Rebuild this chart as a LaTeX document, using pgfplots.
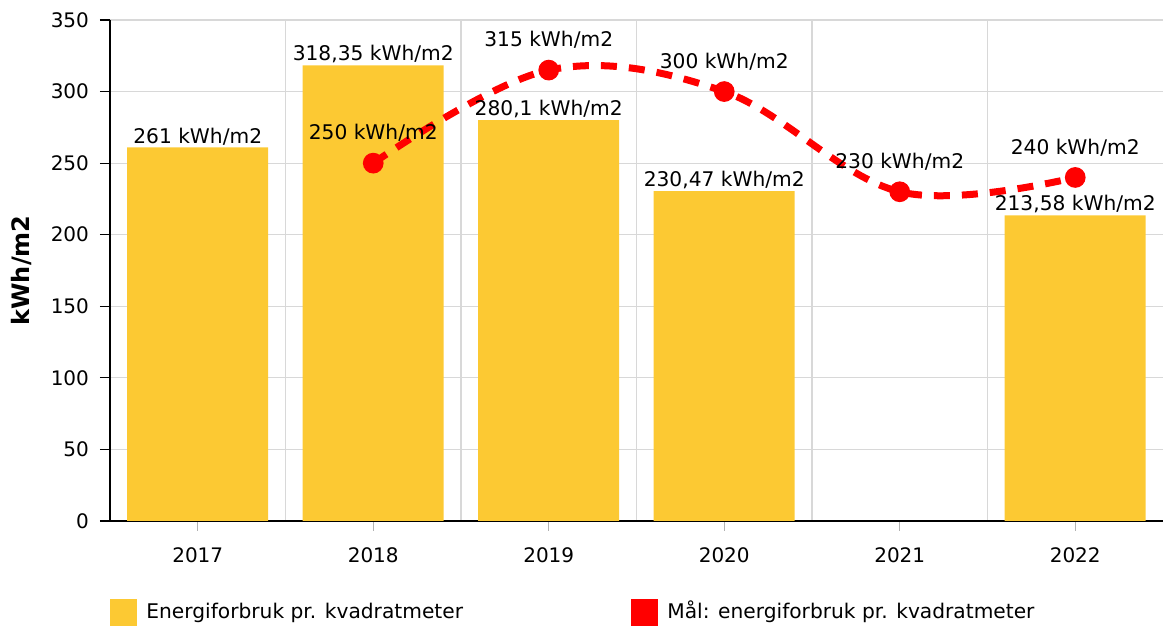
\documentclass[border=0pt]{standalone}
\usepackage{fontspec}
\setmainfont{DejaVu Sans}
\usepackage{pgfplots}
\pgfplotsset{compat=1.18}
\definecolor{barc}{RGB}{252,201,51}
\definecolor{goal}{RGB}{255,0,0}
\definecolor{gridc}{RGB}{216,216,216}

\begin{document}
\begin{tikzpicture}[font=\fontsize{10.1}{12}\selectfont]
\path[use as bounding box] (0,0) rectangle (581.5pt,313.5pt);
\begin{axis}[
  at={(55pt,53pt)}, anchor=south west,
  scale only axis, width=526.5pt, height=250.5pt,
  xmin=-0.5, xmax=5.5, ymin=0, ymax=350,
  xtick={0,1,2,3,4,5},
  xticklabels={2017,2018,2019,2020,2021,2022},
  minor xtick={0.5,1.5,2.5,3.5,4.5},
  ytick={0,50,100,150,200,250,300,350},
  ymajorgrids, xminorgrids,
  grid style={gridc, line width=0.6pt},
  minor tick length=0pt,
  axis lines*=left,
  axis line style={black, line width=0.9pt},
  tick align=outside, major tick length=5pt,
  xtick style={black!30, line width=0.6pt},
  ytick style={black, line width=0.6pt},
  tick label style={font=\fontsize{10}{12}\selectfont},
  /pgf/number format/assume math mode=true,
  xticklabel style={yshift=-5pt},
  yticklabel style={xshift=-2pt},
  ylabel={\textbf{kWh/m2}},
  every axis y label/.style={at={(axis description cs:-0.0836,0.5)}, rotate=90, anchor=center, font=\fontsize{12}{14}\selectfont},
  clip=false,
]
\addplot[ybar, bar width=70.5pt, bar shift=0pt, fill=barc, draw=none,
  point meta=explicit symbolic, nodes near coords,
  every node near coord/.style={anchor=south, inner sep=1pt, text=black}]
  coordinates {(0,261) [261 kWh/m2] (1,318.35) [318,35 kWh/m2] (2,280.1) [280,1 kWh/m2]
               (3,230.47) [230,47 kWh/m2] (5,213.58) [213,58 kWh/m2]};
\addplot[goal, line width=3.5pt, dash pattern=on 8pt off 6pt, smooth, tension=0.6,
  mark=*, mark size=3.4pt, mark options={solid, fill=goal, draw=none},
  point meta=explicit symbolic, nodes near coords,
  every node near coord/.style={anchor=south, inner sep=1pt, yshift=8pt, text=black}]
  coordinates {(1,250) [250 kWh/m2] (2,315) [315 kWh/m2] (3,300) [300 kWh/m2]
               (4,230) [230 kWh/m2] (5,240) [240 kWh/m2]};
\end{axis}
% legend
\fill[barc] (55pt,0.5pt) rectangle (68.5pt,14pt);
\node[anchor=base west, inner sep=0pt] at (73pt,4pt) {Energiforbruk pr. kvadratmeter};
\fill[goal] (315.5pt,0.5pt) rectangle (329pt,14pt);
\node[anchor=base west, inner sep=0pt] at (333.5pt,4pt) {Mål: energiforbruk pr. kvadratmeter};
\end{tikzpicture}
\end{document}
